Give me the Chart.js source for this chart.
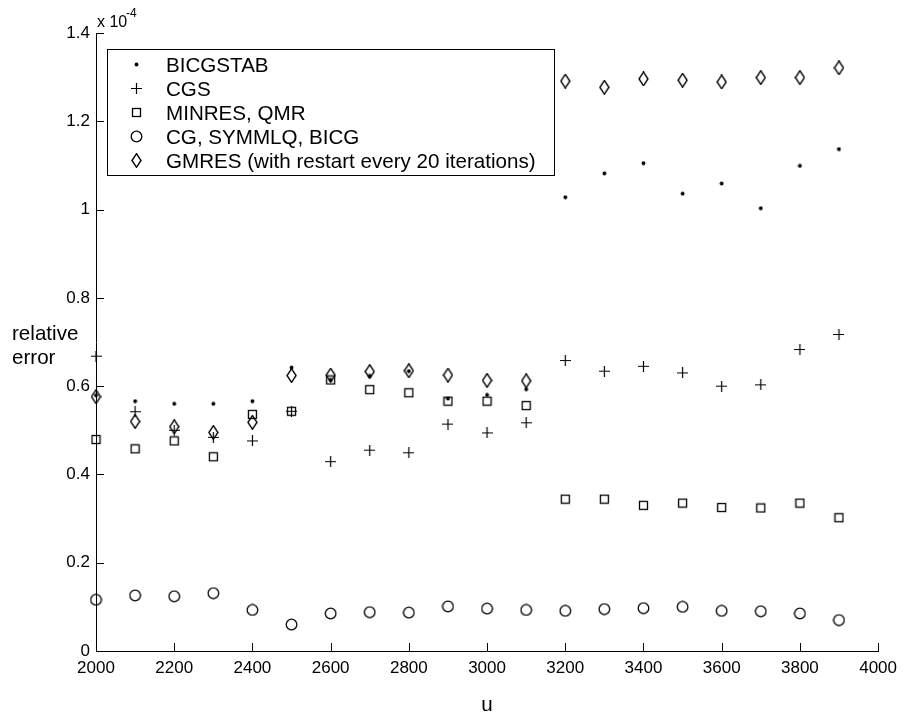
<!DOCTYPE html>
<html>
<head>
<meta charset="utf-8">
<script src="https://cdn.jsdelivr.net/npm/chart.js@4/dist/chart.umd.min.js"></script>
<style>
  html, body { margin: 0; padding: 0; background: #fff; }
  canvas { display: block; }
</style>
</head>
<body>
<canvas id="c" width="904" height="719"></canvas>
<script>
// Problem size u and the relative error (in units of 1e-4) reached by each solver
const uValues = [2000, 2100, 2200, 2300, 2400, 2500, 2600, 2700, 2800, 2900,
                 3000, 3100, 3200, 3300, 3400, 3500, 3600, 3700, 3800, 3900];
const bicgstab = [0.579, 0.566, 0.560, 0.560, 0.566, 0.642, 0.614, 0.623, 0.634, 0.572,
                  0.580, 0.593, 1.028, 1.082, 1.105, 1.036, 1.059, 1.003, 1.099, 1.137];
const cgs      = [0.668, 0.542, 0.500, 0.484, 0.476, 0.543, 0.429, 0.455, 0.449, 0.514,
                  0.494, 0.517, 0.658, 0.634, 0.645, 0.630, 0.600, 0.603, 0.683, 0.717];
const minresQmr = [0.479, 0.458, 0.476, 0.440, 0.536, 0.543, 0.614, 0.592, 0.585, 0.566,
                   0.566, 0.556, 0.344, 0.344, 0.330, 0.335, 0.325, 0.324, 0.335, 0.302];
const cgSymmlqBicg = [0.116, 0.126, 0.124, 0.131, 0.093, 0.060, 0.085, 0.088, 0.087, 0.101,
                      0.096, 0.093, 0.091, 0.095, 0.097, 0.100, 0.091, 0.090, 0.085, 0.070];
const gmres    = [0.576, 0.520, 0.508, 0.495, 0.518, 0.624, 0.625, 0.633, 0.635, 0.625,
                  0.613, 0.612, 1.291, 1.277, 1.296, 1.293, 1.289, 1.299, 1.299, 1.321];

const seriesLabels = ['BICGSTAB', 'CGS', 'MINRES, QMR', 'CG, SYMMLQ, BICG',
                      'GMRES (with restart every 20 iterations)'];
const xTicks = [2000, 2200, 2400, 2600, 2800, 3000, 3200, 3400, 3600, 3800, 4000];
const yTicks = [0, 0.2, 0.4, 0.6, 0.8, 1.0, 1.2, 1.4];

const FONT = '"Liberation Sans", Arial, Helvetica, sans-serif';

// Small offscreen canvases used as marker glyphs
function glyph(w, h, lw, draw) {
  const c = document.createElement('canvas');
  c.width = w; c.height = h;
  const g = c.getContext('2d');
  g.strokeStyle = '#000';
  g.fillStyle = '#000';
  g.lineWidth = lw;
  draw(g);
  return c;
}
const dotMark = glyph(5, 5, 1, g => { g.beginPath(); g.arc(2.5, 2.5, 1.9, 0, Math.PI * 2); g.fill(); });
const plusMark = glyph(11, 11, 1.2, g => {
  g.beginPath();
  g.moveTo(0, 5.5); g.lineTo(11, 5.5);
  g.moveTo(5.5, 0); g.lineTo(5.5, 11);
  g.stroke();
});
const squareMark = glyph(11, 11, 1.3, g => { g.strokeRect(1.5, 1.5, 8, 8); });
const circleMark = glyph(13, 13, 1.3, g => { g.beginPath(); g.arc(6.5, 6.5, 5.3, 0, Math.PI * 2); g.stroke(); });
const diamondMark = glyph(11, 15, 1.4, g => {
  g.beginPath();
  g.moveTo(5.5, 0.7); g.lineTo(10, 7.5); g.lineTo(5.5, 14.3); g.lineTo(1, 7.5);
  g.closePath(); g.stroke();
});

function pts(vals) { return uValues.map((u, i) => ({ x: u, y: vals[i] })); }
function ds(label, vals, mark) {
  return { label, data: pts(vals), pointStyle: mark, pointRadius: 6, pointHoverRadius: 6,
           showLine: false, clip: false, borderColor: '#000', backgroundColor: '#000' };
}

// Inward-pointing tick marks on both axes
const innerTicks = {
  id: 'innerTicks',
  afterDraw(chart) {
    const { ctx, chartArea: a, scales: { x, y } } = chart;
    ctx.save();
    ctx.strokeStyle = '#000';
    ctx.lineWidth = 1;
    ctx.beginPath();
    xTicks.forEach(v => {
      const px = Math.round(x.getPixelForValue(v)) + 0.5;
      ctx.moveTo(px, a.bottom); ctx.lineTo(px, a.bottom - 8);
    });
    yTicks.forEach(v => {
      const py = Math.round(y.getPixelForValue(v)) + 0.5;
      ctx.moveTo(a.left, py); ctx.lineTo(a.left + 8, py);
    });
    ctx.stroke();
    ctx.restore();
  }
};

// Axis titles, exponent note and the boxed legend
const annotations = {
  id: 'annotations',
  afterDraw(chart) {
    const { ctx, chartArea: a } = chart;
    ctx.save();
    ctx.fillStyle = '#000';
    ctx.textBaseline = 'alphabetic';
    // exponent
    ctx.textAlign = 'left';
    ctx.font = '16px ' + FONT;
    ctx.fillText('x 10', a.left + 1, 26.5);
    ctx.font = '12px ' + FONT;
    ctx.fillText('-4', a.left + 30, 16.5);
    // y title
    ctx.font = '20.6px ' + FONT;
    ctx.fillText('relative', 12, 340);
    ctx.fillText('error', 12, 364);
    // x title
    ctx.textAlign = 'center';
    ctx.fillText('u', (a.left + a.right) / 2, 711);

    // legend
    const bx = 107.5, by = 49.5, bw = 447, bh = 126;
    ctx.fillStyle = '#fff';
    ctx.fillRect(bx, by, bw, bh);
    ctx.strokeStyle = '#000';
    ctx.lineWidth = 1;
    ctx.strokeRect(bx, by, bw, bh);
    ctx.fillStyle = '#000';
    ctx.textAlign = 'left';
    ctx.font = '20.6px ' + FONT;
    chart.data.datasets.forEach((d, i) => {
      const cy = 64 + i * 24;
      const m = d.pointStyle;
      ctx.drawImage(m, Math.round(136.5 - m.width / 2), Math.round(cy - m.height / 2));
      ctx.fillText(d.label, 166, cy + 7.5);
    });
    ctx.restore();
  }
};

new Chart(document.getElementById('c'), {
  type: 'scatter',
  data: {
    datasets: [
      ds(seriesLabels[0], bicgstab, dotMark),
      ds(seriesLabels[1], cgs, plusMark),
      ds(seriesLabels[2], minresQmr, squareMark),
      ds(seriesLabels[3], cgSymmlqBicg, circleMark),
      ds(seriesLabels[4], gmres, diamondMark)
    ]
  },
  options: {
    responsive: false,
    animation: false,
    events: [],
    layout: { padding: { top: 33, right: 25, left: 0, bottom: 0 } },
    plugins: { legend: { display: false }, tooltip: { enabled: false } },
    scales: {
      x: {
        type: 'linear', min: 2000, max: 4000,
        afterFit(s) { s.height = 68; },
        afterBuildTicks(s) { s.ticks = xTicks.map(v => ({ value: v })); },
        grid: { display: false, drawTicks: false },
        border: { display: true, color: '#000', width: 1 },
        ticks: { color: '#000', font: { family: FONT, size: 17 }, padding: 7, maxRotation: 0,
                 callback: v => String(v) }
      },
      y: {
        type: 'linear', min: 0, max: 1.4,
        afterFit(s) { s.width = 96; },
        afterBuildTicks(s) { s.ticks = yTicks.map(v => ({ value: v })); },
        grid: { display: false, drawTicks: false },
        border: { display: true, color: '#000', width: 1 },
        ticks: { color: '#000', font: { family: FONT, size: 17 }, padding: 6,
                 callback: v => String(Math.round(v * 10) / 10) }
      }
    }
  },
  plugins: [innerTicks, annotations]
});
</script>
</body>
</html>
